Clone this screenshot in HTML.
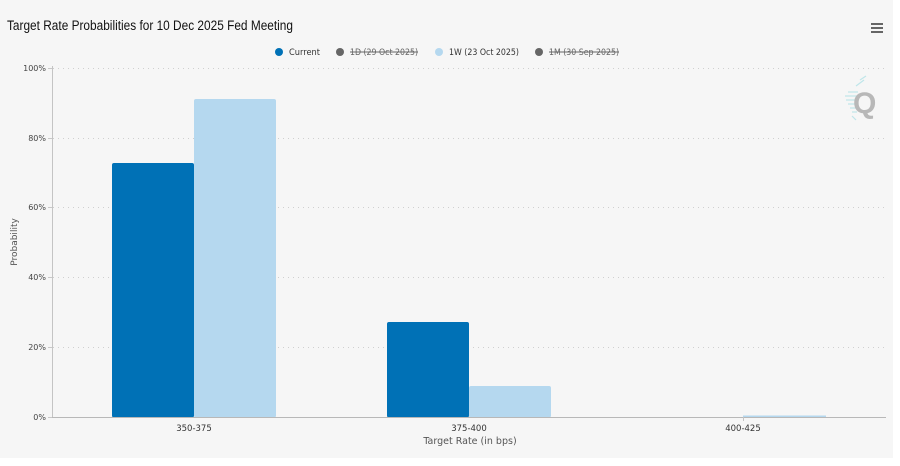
<!DOCTYPE html>
<html>
<head>
<meta charset="utf-8">
<style>
html,body{margin:0;padding:0;background:#ffffff;width:900px;height:466px;overflow:hidden;}
svg{display:block;}
</style>
</head>
<body>
<svg width="900" height="466" viewBox="0 0 900 466" xmlns="http://www.w3.org/2000/svg">
  <rect x="0" y="0" width="900" height="466" fill="#ffffff"/>
  <rect x="0" y="0" width="893" height="458" fill="#f6f6f6"/>

  <!-- Title -->
  <text x="7" y="30" font-family="Liberation Sans, Arial, sans-serif" font-size="13.5" fill="#111" textLength="286" lengthAdjust="spacingAndGlyphs">Target Rate Probabilities for 10 Dec 2025 Fed Meeting</text>

  <!-- Hamburger -->
  <g stroke="#666" stroke-width="2" stroke-linecap="butt">
    <line x1="871" y1="24" x2="883" y2="24"/>
    <line x1="871" y1="28" x2="883" y2="28"/>
    <line x1="871" y1="32" x2="883" y2="32"/>
  </g>

  <!-- Legend -->
  <g font-family="DejaVu Sans, Liberation Sans, sans-serif" font-size="8.5">
    <circle cx="279" cy="52" r="4" fill="#0071b6"/>
    <text x="289" y="55" fill="#333" textLength="31" lengthAdjust="spacingAndGlyphs">Current</text>
    <circle cx="340" cy="52" r="4" fill="#666"/>
    <text x="350" y="55" fill="#666" textLength="68" lengthAdjust="spacingAndGlyphs">1D (29 Oct 2025)</text>
    <line x1="350" y1="52" x2="418" y2="52" stroke="#666" stroke-width="0.9"/>
    <circle cx="439" cy="52" r="4" fill="#b5d8ef"/>
    <text x="449" y="55" fill="#333" textLength="70" lengthAdjust="spacingAndGlyphs">1W (23 Oct 2025)</text>
    <circle cx="539" cy="52" r="4" fill="#666"/>
    <text x="549" y="55" fill="#666" textLength="70" lengthAdjust="spacingAndGlyphs">1M (30 Sep 2025)</text>
    <line x1="549" y1="52" x2="619" y2="52" stroke="#666" stroke-width="0.9"/>
  </g>

  <!-- Watermark Q -->
  <g>
    <g stroke="#bfe6ea" stroke-width="1.2">
      <line x1="848" y1="92" x2="858" y2="92"/>
      <line x1="845" y1="96" x2="857" y2="96"/>
      <line x1="846" y1="100" x2="857" y2="100"/>
      <line x1="848" y1="104" x2="857" y2="104"/>
      <line x1="850" y1="108" x2="857" y2="108"/>
      <line x1="852" y1="112" x2="857" y2="112"/>
      <line x1="860" y1="80" x2="866" y2="76"/>
      <line x1="856" y1="86" x2="864" y2="80"/>
      <line x1="852" y1="116" x2="856" y2="120"/>
    </g>
    <text x="853" y="113" font-family="Liberation Sans, Arial, sans-serif" font-weight="bold" font-size="30" fill="#b8b8b8">Q</text>
  </g>

  <!-- Grid lines -->
  <g stroke="#cfcfcf" stroke-width="1" stroke-dasharray="1,4">
    <line x1="53" y1="68.5" x2="886" y2="68.5"/>
    <line x1="53" y1="138.5" x2="886" y2="138.5"/>
    <line x1="53" y1="207.5" x2="886" y2="207.5"/>
    <line x1="53" y1="277.5" x2="886" y2="277.5"/>
    <line x1="53" y1="347.5" x2="886" y2="347.5"/>
  </g>

  <!-- Y tick marks -->
  <g stroke="#c8c8c8" stroke-width="1">
    <line x1="48" y1="68.5" x2="52" y2="68.5"/>
    <line x1="48" y1="138.5" x2="52" y2="138.5"/>
    <line x1="48" y1="207.5" x2="52" y2="207.5"/>
    <line x1="48" y1="277.5" x2="52" y2="277.5"/>
    <line x1="48" y1="347.5" x2="52" y2="347.5"/>
    <line x1="48" y1="417.5" x2="52" y2="417.5"/>
  </g>

  <!-- Bars -->
  <g>
    <rect x="112" y="163" width="82" height="254.5" rx="2" fill="#0071b6"/>
    <rect x="194" y="99" width="82" height="318.5" rx="2" fill="#b5d8ef"/>
    <rect x="387" y="322" width="82" height="95.5" rx="2" fill="#0071b6"/>
    <rect x="469" y="386" width="82" height="31.5" rx="2" fill="#b5d8ef"/>
    <rect x="743" y="415.5" width="83" height="1.5" fill="#b5d8ef"/>
  </g>

  <!-- Axes -->
  <line x1="52.5" y1="66" x2="52.5" y2="418" stroke="#c4c4c4" stroke-width="1"/>
  <line x1="52" y1="417.5" x2="886" y2="417.5" stroke="#b8b8b8" stroke-width="1"/>
  <line x1="743.5" y1="417" x2="743.5" y2="421" stroke="#c4c4c4" stroke-width="1"/>

  <!-- Y labels -->
  <g font-family="DejaVu Sans, Liberation Sans, sans-serif" font-size="8" fill="#444" text-anchor="end">
    <text x="46" y="71">100%</text>
    <text x="46" y="141">80%</text>
    <text x="46" y="210">60%</text>
    <text x="46" y="280">40%</text>
    <text x="46" y="350">20%</text>
    <text x="46" y="420">0%</text>
  </g>

  <!-- Y title -->
  <text transform="translate(17,242) rotate(-90)" text-anchor="middle" font-family="DejaVu Sans, Liberation Sans, sans-serif" font-size="9" fill="#555">Probability</text>

  <!-- X labels -->
  <g font-family="DejaVu Sans, Liberation Sans, sans-serif" font-size="8.5" fill="#333" text-anchor="middle">
    <text x="194" y="431">350-375</text>
    <text x="469" y="431">375-400</text>
    <text x="743" y="431">400-425</text>
  </g>
  <text x="470" y="444" text-anchor="middle" font-family="DejaVu Sans, Liberation Sans, sans-serif" font-size="9.5" fill="#555">Target Rate (in bps)</text>
</svg>
</body>
</html>
